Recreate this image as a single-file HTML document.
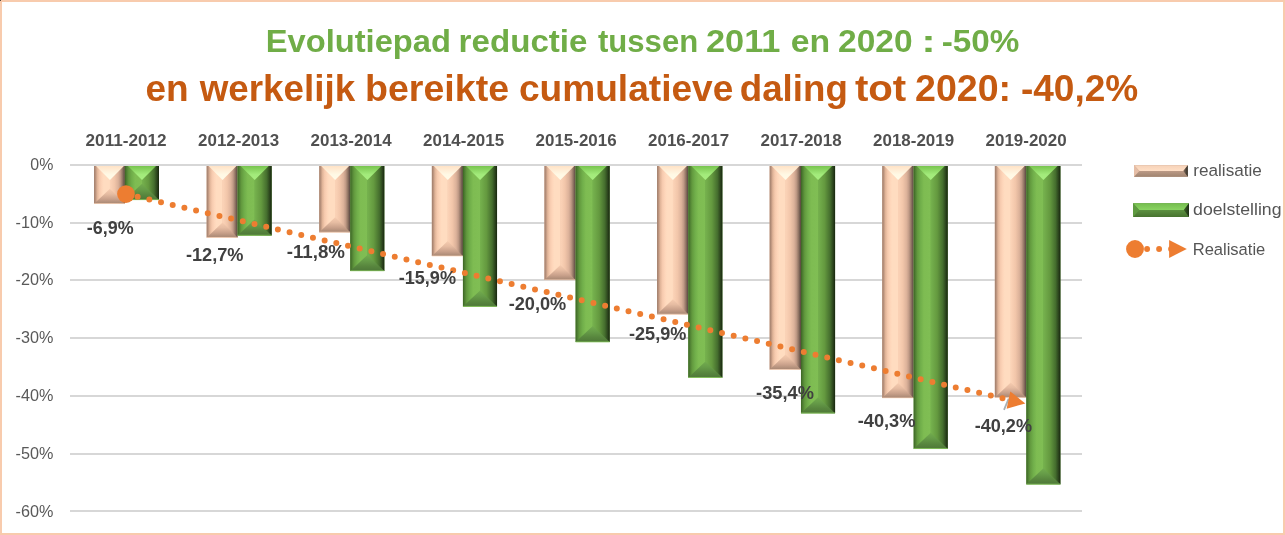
<!DOCTYPE html>
<html lang="nl"><head><meta charset="utf-8"><title>Evolutiepad reductie</title>
<style>html,body{margin:0;padding:0;background:#fff}body{width:1285px;height:535px;overflow:hidden}svg{display:block}text{font-family:"Liberation Sans",sans-serif}</style></head><body>
<svg width="1285" height="535" viewBox="0 0 1285 535">
<defs>
<linearGradient id="sL" x1="0" x2="1" y1="0" y2="0"><stop offset="0" stop-color="#9c7c6a"/><stop offset="0.1" stop-color="#bc947e"/><stop offset="0.2" stop-color="#e0b498"/><stop offset="0.34" stop-color="#f6caae"/><stop offset="0.5" stop-color="#fed6ba"/><stop offset="0.62" stop-color="#ffdcc0"/><stop offset="1" stop-color="#ffdcc0"/></linearGradient>
<linearGradient id="sR" x1="0" x2="1" y1="0" y2="0"><stop offset="0" stop-color="#fcd4b8"/><stop offset="0.3" stop-color="#f2c6aa"/><stop offset="0.55" stop-color="#dcb29a"/><stop offset="0.7" stop-color="#c09a86"/><stop offset="0.85" stop-color="#8e7262"/><stop offset="0.95" stop-color="#66524a"/><stop offset="1" stop-color="#544038"/></linearGradient>
<linearGradient id="sT" x1="0" x2="0" y1="0" y2="1"><stop offset="0" stop-color="#ffe2c6"/><stop offset="0.6" stop-color="#fff8e4"/><stop offset="1" stop-color="#fffbe8"/></linearGradient>
<linearGradient id="sB" x1="0" x2="0" y1="0" y2="1"><stop offset="0" stop-color="#f6ccb0"/><stop offset="0.35" stop-color="#e6bca2"/><stop offset="0.7" stop-color="#c8a08a"/><stop offset="1" stop-color="#a68672"/></linearGradient>
<linearGradient id="gL" x1="0" x2="1" y1="0" y2="0"><stop offset="0" stop-color="#3c6424"/><stop offset="0.1" stop-color="#4e7e32"/><stop offset="0.22" stop-color="#62993e"/><stop offset="0.4" stop-color="#70ae4a"/><stop offset="0.6" stop-color="#7ebc52"/><stop offset="1" stop-color="#80be54"/></linearGradient>
<linearGradient id="gR" x1="0" x2="1" y1="0" y2="0"><stop offset="0" stop-color="#76b24e"/><stop offset="0.38" stop-color="#64993f"/><stop offset="0.71" stop-color="#456e2e"/><stop offset="0.89" stop-color="#2a421c"/><stop offset="1" stop-color="#18260f"/></linearGradient>
<linearGradient id="gT" x1="0" x2="0" y1="0" y2="1"><stop offset="0" stop-color="#78c44e"/><stop offset="0.6" stop-color="#a2ea7a"/><stop offset="1" stop-color="#a8ee80"/></linearGradient>
<linearGradient id="gB" x1="0" x2="0" y1="0" y2="1"><stop offset="0" stop-color="#72ac4e"/><stop offset="0.35" stop-color="#669c48"/><stop offset="0.7" stop-color="#58863e"/><stop offset="1" stop-color="#4e7838"/></linearGradient>
</defs>
<rect x="0" y="0" width="1285" height="535" fill="#f8cbad"/>
<rect x="2" y="2" width="1281" height="531" fill="#ffffff"/>
<rect x="0" y="0" width="1" height="1" fill="#5a4a40"/>
<text y="52.1" font-size="32" font-weight="bold" fill="#70ad47"><tspan x="265.74" textLength="185.18" lengthAdjust="spacingAndGlyphs">Evolutiepad</tspan> <tspan x="458.62" textLength="128.88" lengthAdjust="spacingAndGlyphs">reductie</tspan> <tspan x="597.95" textLength="100.24" lengthAdjust="spacingAndGlyphs">tussen</tspan> <tspan x="705.91" textLength="74.56" lengthAdjust="spacingAndGlyphs">2011</tspan> <tspan x="790.77" textLength="39.45" lengthAdjust="spacingAndGlyphs">en</tspan> <tspan x="838.06" textLength="74.58" lengthAdjust="spacingAndGlyphs">2020</tspan> <tspan x="921.18" textLength="14.51" lengthAdjust="spacingAndGlyphs">:</tspan> <tspan x="941.73" textLength="77.68" lengthAdjust="spacingAndGlyphs">-50%</tspan></text>
<text y="101.4" font-size="36.5" font-weight="bold" fill="#c55a11"><tspan x="145.51" textLength="43.22" lengthAdjust="spacingAndGlyphs">en</tspan> <tspan x="199.68" textLength="155.53" lengthAdjust="spacingAndGlyphs">werkelijk</tspan> <tspan x="365.00" textLength="144.10" lengthAdjust="spacingAndGlyphs">bereikte</tspan> <tspan x="518.92" textLength="214.46" lengthAdjust="spacingAndGlyphs">cumulatieve</tspan> <tspan x="739.78" textLength="108.02" lengthAdjust="spacingAndGlyphs">daling</tspan> <tspan x="854.93" textLength="51.32" lengthAdjust="spacingAndGlyphs">tot</tspan> <tspan x="914.99" textLength="96.09" lengthAdjust="spacingAndGlyphs">2020:</tspan> <tspan x="1020.95" textLength="117.34" lengthAdjust="spacingAndGlyphs">-40,2%</tspan></text>
<rect x="70" y="164" width="1012" height="2" fill="#d7d7d7"/>
<rect x="70" y="222" width="1012" height="2" fill="#d7d7d7"/>
<rect x="70" y="279" width="1012" height="2" fill="#d7d7d7"/>
<rect x="70" y="337" width="1012" height="2" fill="#d7d7d7"/>
<rect x="70" y="395" width="1012" height="2" fill="#d7d7d7"/>
<rect x="70" y="453" width="1012" height="2" fill="#d7d7d7"/>
<rect x="70" y="510" width="1012" height="2" fill="#d7d7d7"/>
<text x="30.3" y="169.60" font-size="16.6" fill="#595959" textLength="23.0" lengthAdjust="spacingAndGlyphs">0%</text>
<text x="15.5" y="227.50" font-size="16.6" fill="#595959" textLength="37.8" lengthAdjust="spacingAndGlyphs">-10%</text>
<text x="15.5" y="285.40" font-size="16.6" fill="#595959" textLength="37.8" lengthAdjust="spacingAndGlyphs">-20%</text>
<text x="15.5" y="343.30" font-size="16.6" fill="#595959" textLength="37.8" lengthAdjust="spacingAndGlyphs">-30%</text>
<text x="15.5" y="401.20" font-size="16.6" fill="#595959" textLength="37.8" lengthAdjust="spacingAndGlyphs">-40%</text>
<text x="15.5" y="459.10" font-size="16.6" fill="#595959" textLength="37.8" lengthAdjust="spacingAndGlyphs">-50%</text>
<text x="15.5" y="517.00" font-size="16.6" fill="#595959" textLength="37.8" lengthAdjust="spacingAndGlyphs">-60%</text>
<text x="85.60" y="145.6" font-size="16.6" font-weight="bold" fill="#505050" textLength="81" lengthAdjust="spacingAndGlyphs">2011-2012</text>
<text x="198.10" y="145.6" font-size="16.6" font-weight="bold" fill="#505050" textLength="81" lengthAdjust="spacingAndGlyphs">2012-2013</text>
<text x="310.60" y="145.6" font-size="16.6" font-weight="bold" fill="#505050" textLength="81" lengthAdjust="spacingAndGlyphs">2013-2014</text>
<text x="423.10" y="145.6" font-size="16.6" font-weight="bold" fill="#505050" textLength="81" lengthAdjust="spacingAndGlyphs">2014-2015</text>
<text x="535.60" y="145.6" font-size="16.6" font-weight="bold" fill="#505050" textLength="81" lengthAdjust="spacingAndGlyphs">2015-2016</text>
<text x="648.10" y="145.6" font-size="16.6" font-weight="bold" fill="#505050" textLength="81" lengthAdjust="spacingAndGlyphs">2016-2017</text>
<text x="760.60" y="145.6" font-size="16.6" font-weight="bold" fill="#505050" textLength="81" lengthAdjust="spacingAndGlyphs">2017-2018</text>
<text x="873.10" y="145.6" font-size="16.6" font-weight="bold" fill="#505050" textLength="81" lengthAdjust="spacingAndGlyphs">2018-2019</text>
<text x="985.60" y="145.6" font-size="16.6" font-weight="bold" fill="#505050" textLength="81" lengthAdjust="spacingAndGlyphs">2019-2020</text>
<rect x="94.05" y="166.00" width="30.85" height="37.74" fill="#f0c4a8"/>
<polygon points="94.05,166.00 109.95,166.00 109.95,203.74 94.05,203.74" fill="url(#sL)"/>
<polygon points="124.90,166.00 109.95,166.00 109.95,203.74 124.90,203.74" fill="url(#sR)"/>
<polygon points="96.05,166.00 123.85,166.00 109.95,179.90" fill="url(#sT)"/>
<polygon points="94.05,203.74 124.90,203.74 109.95,188.74" fill="url(#sB)"/>
<rect x="94.05" y="203.24" width="30.85" height="0.8" fill="#ffd9c0" opacity="0.8"/>
<rect x="124.90" y="166.00" width="34.10" height="33.82" fill="#6aa646"/>
<polygon points="124.90,166.00 142.00,166.00 142.00,199.82 124.90,199.82" fill="url(#gL)"/>
<polygon points="159.00,166.00 142.00,166.00 142.00,199.82 159.00,199.82" fill="url(#gR)"/>
<polygon points="128.00,166.00 156.00,166.00 142.00,180.00" fill="url(#gT)"/>
<polygon points="124.90,199.82 159.00,199.82 142.00,183.82" fill="url(#gB)"/>
<rect x="124.90" y="199.22" width="34.1" height="0.9" fill="#8ccc60" opacity="0.8"/>
<rect x="206.65" y="166.00" width="30.93" height="71.47" fill="#f0c4a8"/>
<polygon points="206.65,166.00 222.55,166.00 222.55,237.47 206.65,237.47" fill="url(#sL)"/>
<polygon points="237.58,166.00 222.55,166.00 222.55,237.47 237.58,237.47" fill="url(#sR)"/>
<polygon points="208.65,166.00 236.45,166.00 222.55,179.90" fill="url(#sT)"/>
<polygon points="206.65,237.47 237.58,237.47 222.55,222.47" fill="url(#sB)"/>
<rect x="206.65" y="236.97" width="30.93" height="0.8" fill="#ffd9c0" opacity="0.8"/>
<rect x="237.58" y="166.00" width="34.10" height="69.38" fill="#6aa646"/>
<polygon points="237.58,166.00 254.68,166.00 254.68,235.38 237.58,235.38" fill="url(#gL)"/>
<polygon points="271.68,166.00 254.68,166.00 254.68,235.38 271.68,235.38" fill="url(#gR)"/>
<polygon points="240.68,166.00 268.68,166.00 254.68,180.00" fill="url(#gT)"/>
<polygon points="237.58,235.38 271.68,235.38 254.68,219.38" fill="url(#gB)"/>
<rect x="237.58" y="234.78" width="34.1" height="0.9" fill="#8ccc60" opacity="0.8"/>
<rect x="319.25" y="166.00" width="31.01" height="66.24" fill="#f0c4a8"/>
<polygon points="319.25,166.00 335.15,166.00 335.15,232.24 319.25,232.24" fill="url(#sL)"/>
<polygon points="350.26,166.00 335.15,166.00 335.15,232.24 350.26,232.24" fill="url(#sR)"/>
<polygon points="321.25,166.00 349.05,166.00 335.15,179.90" fill="url(#sT)"/>
<polygon points="319.25,232.24 350.26,232.24 335.15,217.24" fill="url(#sB)"/>
<rect x="319.25" y="231.74" width="31.01" height="0.8" fill="#ffd9c0" opacity="0.8"/>
<rect x="350.26" y="166.00" width="34.10" height="104.94" fill="#6aa646"/>
<polygon points="350.26,166.00 367.36,166.00 367.36,270.94 350.26,270.94" fill="url(#gL)"/>
<polygon points="384.36,166.00 367.36,166.00 367.36,270.94 384.36,270.94" fill="url(#gR)"/>
<polygon points="353.36,166.00 381.36,166.00 367.36,180.00" fill="url(#gT)"/>
<polygon points="350.26,270.94 384.36,270.94 367.36,254.94" fill="url(#gB)"/>
<rect x="350.26" y="270.34" width="34.1" height="0.9" fill="#8ccc60" opacity="0.8"/>
<rect x="431.85" y="166.00" width="31.09" height="90.09" fill="#f0c4a8"/>
<polygon points="431.85,166.00 447.75,166.00 447.75,256.09 431.85,256.09" fill="url(#sL)"/>
<polygon points="462.94,166.00 447.75,166.00 447.75,256.09 462.94,256.09" fill="url(#sR)"/>
<polygon points="433.85,166.00 461.65,166.00 447.75,179.90" fill="url(#sT)"/>
<polygon points="431.85,256.09 462.94,256.09 447.75,241.09" fill="url(#sB)"/>
<rect x="431.85" y="255.59" width="31.09" height="0.8" fill="#ffd9c0" opacity="0.8"/>
<rect x="462.94" y="166.00" width="34.10" height="140.50" fill="#6aa646"/>
<polygon points="462.94,166.00 480.04,166.00 480.04,306.50 462.94,306.50" fill="url(#gL)"/>
<polygon points="497.04,166.00 480.04,166.00 480.04,306.50 497.04,306.50" fill="url(#gR)"/>
<polygon points="466.04,166.00 494.04,166.00 480.04,180.00" fill="url(#gT)"/>
<polygon points="462.94,306.50 497.04,306.50 480.04,290.50" fill="url(#gB)"/>
<rect x="462.94" y="305.90" width="34.1" height="0.9" fill="#8ccc60" opacity="0.8"/>
<rect x="544.45" y="166.00" width="31.17" height="113.93" fill="#f0c4a8"/>
<polygon points="544.45,166.00 560.35,166.00 560.35,279.93 544.45,279.93" fill="url(#sL)"/>
<polygon points="575.62,166.00 560.35,166.00 560.35,279.93 575.62,279.93" fill="url(#sR)"/>
<polygon points="546.45,166.00 574.25,166.00 560.35,179.90" fill="url(#sT)"/>
<polygon points="544.45,279.93 575.62,279.93 560.35,264.93" fill="url(#sB)"/>
<rect x="544.45" y="279.43" width="31.17" height="0.8" fill="#ffd9c0" opacity="0.8"/>
<rect x="575.62" y="166.00" width="34.10" height="176.06" fill="#6aa646"/>
<polygon points="575.62,166.00 592.72,166.00 592.72,342.06 575.62,342.06" fill="url(#gL)"/>
<polygon points="609.72,166.00 592.72,166.00 592.72,342.06 609.72,342.06" fill="url(#gR)"/>
<polygon points="578.72,166.00 606.72,166.00 592.72,180.00" fill="url(#gT)"/>
<polygon points="575.62,342.06 609.72,342.06 592.72,326.06" fill="url(#gB)"/>
<rect x="575.62" y="341.46" width="34.1" height="0.9" fill="#8ccc60" opacity="0.8"/>
<rect x="657.05" y="166.00" width="31.25" height="148.25" fill="#f0c4a8"/>
<polygon points="657.05,166.00 672.95,166.00 672.95,314.25 657.05,314.25" fill="url(#sL)"/>
<polygon points="688.30,166.00 672.95,166.00 672.95,314.25 688.30,314.25" fill="url(#sR)"/>
<polygon points="659.05,166.00 686.85,166.00 672.95,179.90" fill="url(#sT)"/>
<polygon points="657.05,314.25 688.30,314.25 672.95,299.25" fill="url(#sB)"/>
<rect x="657.05" y="313.75" width="31.25" height="0.8" fill="#ffd9c0" opacity="0.8"/>
<rect x="688.30" y="166.00" width="34.10" height="211.62" fill="#6aa646"/>
<polygon points="688.30,166.00 705.40,166.00 705.40,377.62 688.30,377.62" fill="url(#gL)"/>
<polygon points="722.40,166.00 705.40,166.00 705.40,377.62 722.40,377.62" fill="url(#gR)"/>
<polygon points="691.40,166.00 719.40,166.00 705.40,180.00" fill="url(#gT)"/>
<polygon points="688.30,377.62 722.40,377.62 705.40,361.62" fill="url(#gB)"/>
<rect x="688.30" y="377.02" width="34.1" height="0.9" fill="#8ccc60" opacity="0.8"/>
<rect x="769.65" y="166.00" width="31.33" height="203.51" fill="#f0c4a8"/>
<polygon points="769.65,166.00 785.55,166.00 785.55,369.51 769.65,369.51" fill="url(#sL)"/>
<polygon points="800.98,166.00 785.55,166.00 785.55,369.51 800.98,369.51" fill="url(#sR)"/>
<polygon points="771.65,166.00 799.45,166.00 785.55,179.90" fill="url(#sT)"/>
<polygon points="769.65,369.51 800.98,369.51 785.55,354.51" fill="url(#sB)"/>
<rect x="769.65" y="369.01" width="31.33" height="0.8" fill="#ffd9c0" opacity="0.8"/>
<rect x="800.98" y="166.00" width="34.10" height="247.18" fill="#6aa646"/>
<polygon points="800.98,166.00 818.08,166.00 818.08,413.18 800.98,413.18" fill="url(#gL)"/>
<polygon points="835.08,166.00 818.08,166.00 818.08,413.18 835.08,413.18" fill="url(#gR)"/>
<polygon points="804.08,166.00 832.08,166.00 818.08,180.00" fill="url(#gT)"/>
<polygon points="800.98,413.18 835.08,413.18 818.08,397.18" fill="url(#gB)"/>
<rect x="800.98" y="412.58" width="34.1" height="0.9" fill="#8ccc60" opacity="0.8"/>
<rect x="882.25" y="166.00" width="31.41" height="232.01" fill="#f0c4a8"/>
<polygon points="882.25,166.00 898.15,166.00 898.15,398.01 882.25,398.01" fill="url(#sL)"/>
<polygon points="913.66,166.00 898.15,166.00 898.15,398.01 913.66,398.01" fill="url(#sR)"/>
<polygon points="884.25,166.00 912.05,166.00 898.15,179.90" fill="url(#sT)"/>
<polygon points="882.25,398.01 913.66,398.01 898.15,383.01" fill="url(#sB)"/>
<rect x="882.25" y="397.51" width="31.41" height="0.8" fill="#ffd9c0" opacity="0.8"/>
<rect x="913.66" y="166.00" width="34.10" height="282.74" fill="#6aa646"/>
<polygon points="913.66,166.00 930.76,166.00 930.76,448.74 913.66,448.74" fill="url(#gL)"/>
<polygon points="947.76,166.00 930.76,166.00 930.76,448.74 947.76,448.74" fill="url(#gR)"/>
<polygon points="916.76,166.00 944.76,166.00 930.76,180.00" fill="url(#gT)"/>
<polygon points="913.66,448.74 947.76,448.74 930.76,432.74" fill="url(#gB)"/>
<rect x="913.66" y="448.14" width="34.1" height="0.9" fill="#8ccc60" opacity="0.8"/>
<rect x="994.85" y="166.00" width="31.49" height="231.43" fill="#f0c4a8"/>
<polygon points="994.85,166.00 1010.75,166.00 1010.75,397.43 994.85,397.43" fill="url(#sL)"/>
<polygon points="1026.34,166.00 1010.75,166.00 1010.75,397.43 1026.34,397.43" fill="url(#sR)"/>
<polygon points="996.85,166.00 1024.65,166.00 1010.75,179.90" fill="url(#sT)"/>
<polygon points="994.85,397.43 1026.34,397.43 1010.75,382.43" fill="url(#sB)"/>
<rect x="994.85" y="396.93" width="31.49" height="0.8" fill="#ffd9c0" opacity="0.8"/>
<rect x="1026.34" y="166.00" width="34.10" height="318.30" fill="#6aa646"/>
<polygon points="1026.34,166.00 1043.44,166.00 1043.44,484.30 1026.34,484.30" fill="url(#gL)"/>
<polygon points="1060.44,166.00 1043.44,166.00 1043.44,484.30 1060.44,484.30" fill="url(#gR)"/>
<polygon points="1029.44,166.00 1057.44,166.00 1043.44,180.00" fill="url(#gT)"/>
<polygon points="1026.34,484.30 1060.44,484.30 1043.44,468.30" fill="url(#gB)"/>
<rect x="1026.34" y="483.70" width="34.1" height="0.9" fill="#8ccc60" opacity="0.8"/>
<path d="M125.95,194.1 L1008,399.55" fill="none" stroke="#ed7d31" stroke-width="6" stroke-linecap="round" stroke-dasharray="0 12"/>
<circle cx="125.95" cy="194.1" r="8.85" fill="#ed7d31"/>
<line x1="1004" y1="409.9" x2="1008.7" y2="398.7" stroke="#a9afb1" stroke-width="1.8"/>
<polygon points="1025.3,403.5 1010.3,391.4 1006.6,408.7" fill="#ed7d31"/>
<text x="86.8" y="233.6" font-size="19" font-weight="bold" fill="#404040" textLength="46.8" lengthAdjust="spacingAndGlyphs">-6,9%</text>
<text x="185.9" y="260.7" font-size="19" font-weight="bold" fill="#404040" textLength="57.6" lengthAdjust="spacingAndGlyphs">-12,7%</text>
<text x="286.7" y="257.6" font-size="19" font-weight="bold" fill="#404040" textLength="58.3" lengthAdjust="spacingAndGlyphs">-11,8%</text>
<text x="398.7" y="284.3" font-size="19" font-weight="bold" fill="#404040" textLength="57.3" lengthAdjust="spacingAndGlyphs">-15,9%</text>
<text x="508.7" y="310.2" font-size="19" font-weight="bold" fill="#404040" textLength="57.6" lengthAdjust="spacingAndGlyphs">-20,0%</text>
<text x="629" y="339.6" font-size="19" font-weight="bold" fill="#404040" textLength="57.3" lengthAdjust="spacingAndGlyphs">-25,9%</text>
<text x="756.1" y="398.5" font-size="19" font-weight="bold" fill="#404040" textLength="57.8" lengthAdjust="spacingAndGlyphs">-35,4%</text>
<text x="857.7" y="426.6" font-size="19" font-weight="bold" fill="#404040" textLength="57.8" lengthAdjust="spacingAndGlyphs">-40,3%</text>
<text x="974.7" y="432.3" font-size="19" font-weight="bold" fill="#404040" textLength="57.3" lengthAdjust="spacingAndGlyphs">-40,2%</text>
<linearGradient id="sw165t" x1="0" x2="0" y1="0" y2="1"><stop offset="0" stop-color="#f6d2b8"/><stop offset="1" stop-color="#ffdfc6"/></linearGradient>
<linearGradient id="sw165b" x1="0" x2="0" y1="0" y2="1"><stop offset="0" stop-color="#bc9a86"/><stop offset="1" stop-color="#a08470"/></linearGradient>
<linearGradient id="sw165r" x1="0" x2="1" y1="0" y2="0"><stop offset="0" stop-color="#8a7262"/><stop offset="1" stop-color="#2c2a22"/></linearGradient>
<rect x="1134.0" y="165.2" width="53.80" height="11.60" fill="#bc9a86"/>
<polygon points="1134.0,165.2 1187.8,165.2 1183.3,171.0 1139.4,171.0" fill="url(#sw165t)"/>
<polygon points="1134.0,176.8 1187.8,176.8 1183.3,171.0 1139.4,171.0" fill="url(#sw165b)"/>
<polygon points="1134.0,165.2 1139.4,171.0 1134.0,176.8" fill="#e6bea6"/>
<polygon points="1187.8,165.2 1183.3,171.0 1187.8,176.8" fill="url(#sw165r)"/>
<linearGradient id="sw203t" x1="0" x2="0" y1="0" y2="1"><stop offset="0" stop-color="#74bc4e"/><stop offset="1" stop-color="#8ad462"/></linearGradient>
<linearGradient id="sw203b" x1="0" x2="0" y1="0" y2="1"><stop offset="0" stop-color="#5c9040"/><stop offset="1" stop-color="#487430"/></linearGradient>
<linearGradient id="sw203r" x1="0" x2="1" y1="0" y2="0"><stop offset="0" stop-color="#3e6428"/><stop offset="1" stop-color="#1c2c14"/></linearGradient>
<rect x="1133.0" y="203.2" width="56.00" height="13.70" fill="#5c9040"/>
<polygon points="1133.0,203.2 1189.0,203.2 1183.8,210.05 1139.2,210.05" fill="url(#sw203t)"/>
<polygon points="1133.0,216.9 1189.0,216.9 1183.8,210.05 1139.2,210.05" fill="url(#sw203b)"/>
<polygon points="1133.0,203.2 1139.2,210.05 1133.0,216.9" fill="#5e9a40"/>
<polygon points="1189.0,203.2 1183.8,210.05 1189.0,216.9" fill="url(#sw203r)"/>
<text x="1193.3" y="176.4" font-size="17.2" fill="#555555" textLength="68.6" lengthAdjust="spacingAndGlyphs">realisatie</text>
<text x="1193.1" y="215.4" font-size="17.2" fill="#555555" textLength="88.4" lengthAdjust="spacingAndGlyphs">doelstelling</text>
<text x="1192.7" y="255.0" font-size="17.2" fill="#555555" textLength="72.6" lengthAdjust="spacingAndGlyphs">Realisatie</text>
<circle cx="1135.0" cy="249.0" r="8.95" fill="#ed7d31"/>
<circle cx="1147.1" cy="248.95" r="2.95" fill="#ed7d31"/>
<circle cx="1159.1" cy="248.95" r="2.95" fill="#ed7d31"/>
<circle cx="1171.1" cy="248.95" r="2.95" fill="#ed7d31"/>
<polygon points="1186.8,249.0 1169.1,240.0 1169.1,257.9" fill="#ed7d31"/>
</svg></body></html>
